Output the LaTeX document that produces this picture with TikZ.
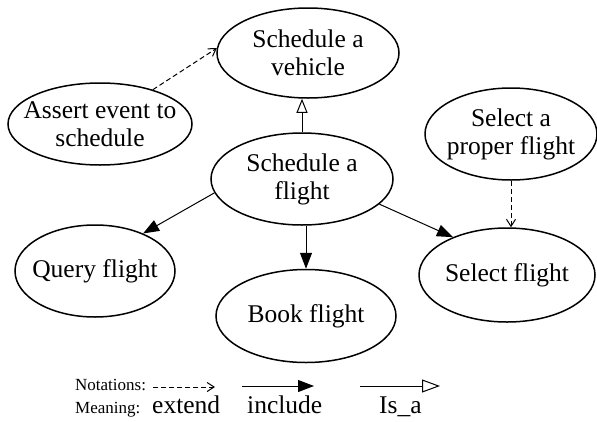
\documentclass[tikz,border=0pt]{standalone}
\usepackage{fontspec}
\setmainfont{Liberation Serif}
\usetikzlibrary{shapes.geometric,arrows.meta}
\begin{document}
\begin{tikzpicture}[x=1pt,y=-1pt,
  usecase/.style={draw,ellipse,line width=1.5pt,inner sep=0pt},
  uctext/.style={align=center,inner sep=0pt,font=\fontsize{25.5}{28}\selectfont},
  inc/.style={line width=1pt,-{Triangle[length=16pt,width=12pt]}},
  ext/.style={line width=1pt,dash pattern=on 5pt off 3pt,-{Straight Barb[length=7pt,width=9pt]}},
  isa/.style={line width=1pt,-{Triangle[open,length=14pt,width=11pt]}},
  small/.style={font=\fontsize{17}{20}\selectfont,inner sep=0pt,anchor=base west},
  big/.style={font=\fontsize{25.5}{28}\selectfont,inner sep=0pt,anchor=base west}]
\useasboundingbox (0,0) rectangle (597,421);

% use case outlines
\node[usecase,minimum width=182pt,minimum height=90pt] (vehicle) at (308,53) {};
\node[usecase,minimum width=184pt,minimum height=82pt] (assert) at (100,124) {};
\node[usecase,minimum width=182pt,minimum height=92pt] (flight) at (302,179) {};
\node[usecase,minimum width=172pt,minimum height=92pt] (proper) at (511,134) {};
\node[usecase,minimum width=160pt,minimum height=92pt] (query) at (95,271) {};
\node[usecase,minimum width=180pt,minimum height=93pt] (book) at (306,316) {};
\node[usecase,minimum width=176pt,minimum height=94pt] (select) at (507,275) {};

% use case names
\node[uctext] (vehicletext) at (vehicle) {Schedule a\\vehicle};
\node[uctext] (asserttext) at (assert) {Assert event to\\schedule};
\node[uctext] (flighttext) at (flight) {Schedule a\\flight};
\node[uctext] (propertext) at (proper) {Select a\\proper flight};
\node[uctext] (querytext) at (query) {Query flight};
\node[uctext] (booktext) at (book) {Book flight};
\node[uctext] (selecttext) at (select) {Select flight};

% relations
\draw[ext] (assert.33) -- (vehicle.177);
\draw[isa] (flight.north) -- (flight.north |- vehicle.south);
\draw[inc] (flight.189) -- (query.38);
\draw[inc] (flight.south -| book.north) -- (book.north);
\draw[inc] (flight.342) -- (select.145);
\draw[ext] (proper.south) -- (proper.south |- select.north);

% legend
\node[small] (notations) at (75,390) {Notations:};
\node[small] (meaning) at (75,413) {Meaning:};
\node[big] (extend) at (152,413) {extend};
\node[big] (include) at (247,413) {include};
\node[big] (isatext) at (379,413) {Is\_a};
\coordinate (e1) at (153,387);
\coordinate (e2) at (215,387);
\coordinate (i1) at (242,386);
\coordinate (i2) at (314,386);
\coordinate (s1) at (360,386);
\coordinate (s2) at (440,386);
\draw[ext] (e1) -- (e2);
\draw[inc] (i1) -- (i2);
\draw[isa,-{Triangle[open,length=18pt,width=13pt]}] (s1) -- (s2);
\end{tikzpicture}
\end{document}
